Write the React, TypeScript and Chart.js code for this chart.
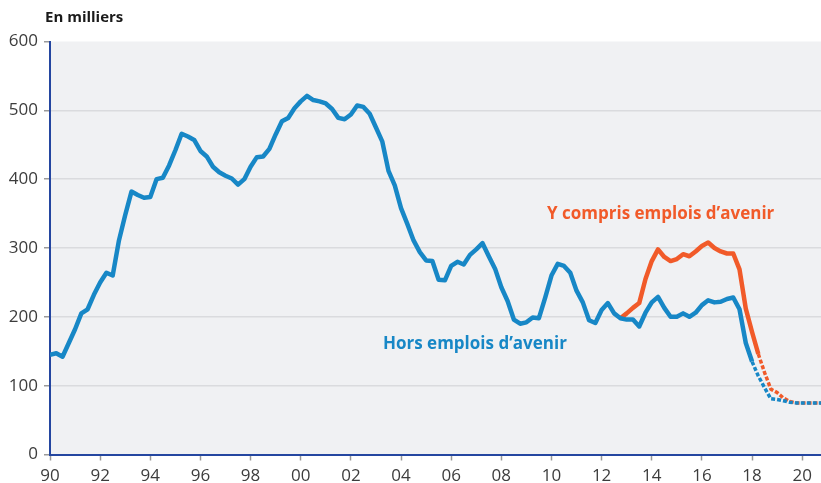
import React, { useEffect, useRef } from "react";
import { Chart, registerables } from "chart.js";

Chart.register(...registerables);

// Quarterly series, first quarter 1990 T1, last 2020 T4 (in thousands)
const firstYear = 1990;
const lastYear = 2020.75;

const horsEmploisAvenir = [
  145, 147, 142, 162, 182, 205, 211, 232, 250, 264,
  260, 311, 348, 382, 377, 373, 374, 400, 402, 420,
  442, 466, 462, 457, 441, 433, 418, 410, 405, 401,
  392, 400, 418, 432, 433, 444, 465, 484, 489, 503,
  513, 521, 515, 513, 510, 502, 489, 487, 494, 507,
  505, 495, 475, 455, 412, 391, 358, 335, 311, 294,
  282, 281, 254, 253, 274, 280, 276, 290, 298, 307,
  288, 270, 243, 223, 196, 190, 192, 199, 198, 228,
  260, 277, 274, 264, 238, 221, 195, 191, 210, 220,
  205, 198, 196, 196, 186, 206, 221, 229, 213, 200,
  200, 205, 200, 206, 217, 224, 221, 222, 226, 228,
  211, 162, 135, 114, 97, 81, 80, 78, 76, 75,
  75, 75, 75, 75,
];

// "Y compris emplois d'avenir" starts at 2012 T4
const yComprisStartIndex = 91;
const yComprisEmploisAvenir = [
  198, 205, 213, 220, 255, 281, 298, 287, 281, 284,
  291, 288, 295, 303, 308, 300, 295, 292, 292, 269,
  212, 178, 146, 119, 95, 90, 82, 77, 75, 75,
  75, 75, 75,
];

// projection (dashed) starts at these indices
const blueDashFrom = 112;
const orangeDashFrom = 113;

const yTicks = [0, 100, 200, 300, 400, 500, 600];
const xTickStep = 2;

const BLUE = "#1787c6";
const ORANGE = "#f15a29";
const AXIS = "#2446a0";
const BG = "#f0f1f3";
const GRID = "#dadbde";
const TICK_TXT = "#3c3c3c";
const FONT = "'Open Sans', 'DejaVu Sans', sans-serif";

const bgPlugin = {
  id: "bgPlugin",
  beforeDraw(chart: any) {
    const { ctx, chartArea } = chart;
    ctx.save();
    ctx.fillStyle = BG;
    ctx.fillRect(chartArea.left, chartArea.top, chartArea.right - chartArea.left, chartArea.bottom - chartArea.top);
    ctx.restore();
  },
  afterDraw(chart: any) {
    const { ctx } = chart;
    ctx.save();
    ctx.textBaseline = "alphabetic";
    ctx.textAlign = "left";
    ctx.fillStyle = "#1a1a1a";
    ctx.font = `bold 15px ${FONT}`;
    ctx.fillText("En milliers", 45, 22);
    ctx.font = `bold 17px ${FONT}`;
    ctx.fillStyle = ORANGE;
    ctx.fillText("Y compris emplois d’avenir", 547, 219);
    ctx.fillStyle = BLUE;
    ctx.fillText("Hors emplois d’avenir", 383, 349);
    ctx.restore();
  },
};

export default function App() {
  const ref = useRef<HTMLCanvasElement | null>(null);

  useEffect(() => {
    document.body.style.margin = "0";
    const canvas = ref.current;
    if (!canvas) return;

    const blueData = horsEmploisAvenir.map((v, i) => ({ x: firstYear + i / 4, y: v }));
    const orangeData = yComprisEmploisAvenir.map((v, i) => ({
      x: firstYear + (yComprisStartIndex + i) / 4,
      y: v,
    }));

    const chart = new Chart(canvas, {
      type: "line",
      data: {
        datasets: [
          {
            label: "Hors emplois d’avenir",
            data: blueData,
            borderColor: BLUE,
            borderWidth: 4.5,
            pointRadius: 0,
            tension: 0,
            borderJoinStyle: "round",
            borderCapStyle: "butt",
            segment: {
              borderDash: (ctx: any) => (ctx.p0DataIndex >= blueDashFrom ? [4, 2] : undefined),
              borderWidth: (ctx: any) => (ctx.p0DataIndex >= blueDashFrom ? 3.5 : 4.5),
            },
          } as any,
          {
            label: "Y compris emplois d’avenir",
            data: orangeData,
            borderColor: ORANGE,
            borderWidth: 4.5,
            pointRadius: 0,
            tension: 0,
            borderJoinStyle: "round",
            borderCapStyle: "butt",
            segment: {
              borderDash: (ctx: any) =>
                ctx.p0DataIndex + yComprisStartIndex >= orangeDashFrom ? [4, 2] : undefined,
              borderWidth: (ctx: any) =>
                ctx.p0DataIndex + yComprisStartIndex >= orangeDashFrom ? 3.5 : 4.5,
            },
          } as any,
        ],
      },
      options: {
        responsive: false,
        animation: false,
        layout: { padding: { top: 41.5, left: 0, right: 0, bottom: 0 } },
        plugins: {
          legend: { display: false },
          tooltip: { enabled: false },
          title: { display: false },
        },
        scales: {
          x: {
            type: "linear",
            min: firstYear,
            max: lastYear,
            border: { color: AXIS, width: 2 },
            grid: {
              drawOnChartArea: false,
              drawTicks: true,
              tickLength: 6,
              tickColor: "#9a9a9a",
              tickWidth: 1.5,
            },
            ticks: {
              stepSize: xTickStep,
              includeBounds: false,
              autoSkip: false,
              maxRotation: 0,
              padding: 5,
              color: TICK_TXT,
              font: { family: FONT, size: 17 },
              callback: (v: any) => String(Math.round(Number(v)) % 100).padStart(2, "0"),
            },
            afterFit: (s: any) => {
              s.height = 28.5;
            },
          },
          y: {
            min: yTicks[0],
            max: yTicks[yTicks.length - 1],
            border: { color: AXIS, width: 2 },
            grid: {
              color: (ctx: any) =>
                ctx.tick && (ctx.tick.value === 0 || ctx.tick.value === 600) ? "rgba(0,0,0,0)" : GRID,
              lineWidth: 1.5,
              drawTicks: true,
              tickLength: 6,
              tickColor: "#9a9a9a",
              tickWidth: 1.5,
            },
            afterBuildTicks: (s: any) => {
              s.ticks = yTicks.map((v) => ({ value: v }));
            },
            ticks: {
              padding: 6,
              color: TICK_TXT,
              font: { family: FONT, size: 17 },
              callback: (v: any) => String(v),
            },
            afterFit: (s: any) => {
              s.width = 50;
            },
          },
        },
      },
      plugins: [bgPlugin],
    });

    return () => chart.destroy();
  }, []);

  return (
    <div style={{ position: "absolute", left: 0, top: 0, width: 821, height: 483 }}>
      <canvas ref={ref} width={821} height={483} style={{ width: 821, height: 483 }} />
    </div>
  );
}
